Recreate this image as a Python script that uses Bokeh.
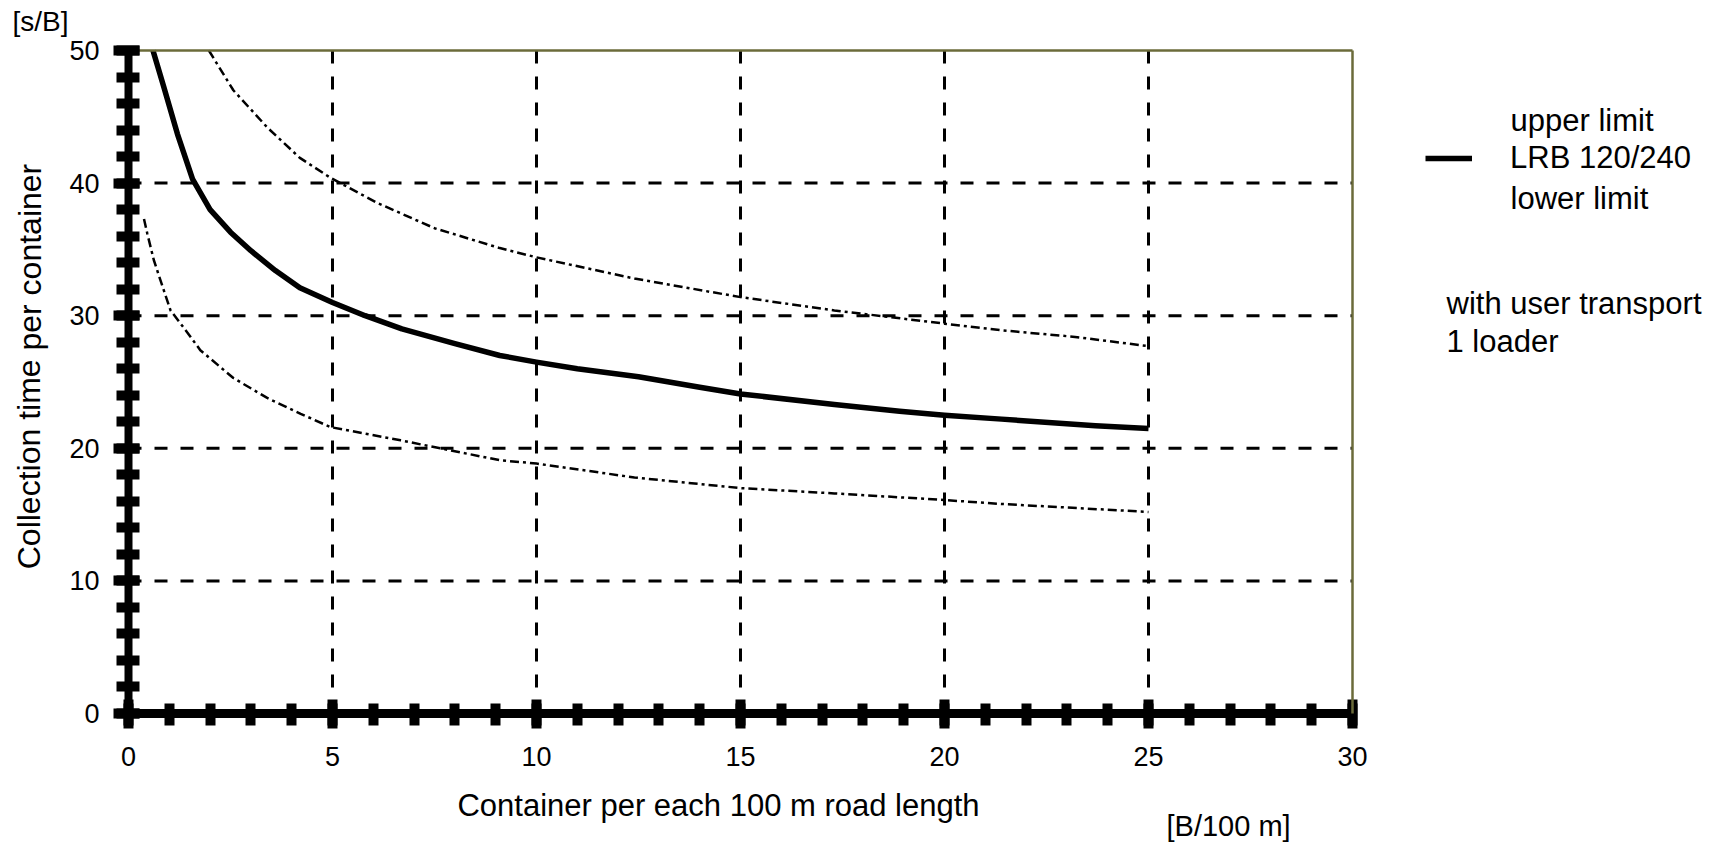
from bokeh.plotting import figure
from bokeh.models import (Range1d, SingleIntervalTicker, FixedTicker, LinearAxis,
                          Label, Legend, LegendItem)
from bokeh.embed import file_html
from bokeh.resources import INLINE

# ---- data ----
x_upper = [1.97, 2.57, 3.4, 4.2, 4.95, 6.1, 7.5, 9.1, 10.0, 12.4, 15.0, 17.3, 20.0, 21.4, 23.2, 25.0]
y_upper = [50.0, 47.0, 44.2, 41.9, 40.4, 38.5, 36.6, 35.1, 34.4, 32.8, 31.4, 30.4, 29.4, 28.9, 28.4, 27.7]

x_lrb = [0.6, 0.86, 1.2, 1.57, 2.0, 2.5, 3.0, 3.6, 4.2, 5.0, 5.8, 6.7, 8.0, 9.1, 10.0, 11.0, 12.5,
         14.0, 15.0, 17.3, 18.9, 20.0, 21.4, 23.7, 25.0]
y_lrb = [50.0, 47.3, 43.7, 40.3, 38.0, 36.3, 34.9, 33.4, 32.1, 31.0, 30.0, 29.0, 27.9, 27.0, 26.5, 26.0, 25.4,
         24.6, 24.1, 23.3, 22.8, 22.5, 22.2, 21.7, 21.5]

x_lower = [0.38, 0.46, 0.62, 0.78, 1.03, 1.45, 1.76, 2.57, 3.4, 4.22, 4.95, 6.67, 9.1, 10.0,
           12.4, 15.0, 17.3, 20.0, 21.4, 25.0]
y_lower = [37.3, 36.2, 34.2, 32.7, 30.4, 28.7, 27.4, 25.3, 23.8, 22.6, 21.6, 20.6, 19.1, 18.85,
           17.8, 17.0, 16.6, 16.1, 15.8, 15.2]

x_limits = (0, 30)
y_limits = (0, 50)
x_grid = [5, 10, 15, 20, 25]
y_grid = [10, 20, 30, 40]

FONT = "Liberation Sans"
OLIVE = "#6b6b3a"

W, H = 1725, 843
# pixel geometry of the plot area inside the page
X0_PX, X1_PX = 128, 1352
Y0_PX, Y1_PX = 713, 50
PX_X = (X1_PX - X0_PX) / (x_limits[1] - x_limits[0])
PX_Y = (Y0_PX - Y1_PX) / (y_limits[1] - y_limits[0])

x_start = (0 - X0_PX) / PX_X
y_end = Y0_PX / PX_Y
p = figure(width=W, height=H,
           x_range=Range1d(x_start, x_start + W / PX_X),
           y_range=Range1d(y_end - H / PX_Y, y_end),
           x_axis_location=None, y_axis_location=None,
           output_backend="svg", toolbar_location=None,
           min_border=0)
p.outline_line_color = None
p.background_fill_color = "white"
p.border_fill_color = "white"
p.grid.visible = False

# bottom axis
xa = LinearAxis(fixed_location=y_limits[0], bounds=x_limits,
                ticker=SingleIntervalTicker(interval=5, num_minor_ticks=5))
xa.axis_line_width = 9
xa.axis_line_color = "black"
xa.major_tick_line_width = 10
xa.major_tick_in = 14
xa.major_tick_out = 15
xa.minor_tick_line_width = 10
xa.minor_tick_in = 10
xa.minor_tick_out = 12
xa.major_label_text_font = FONT
xa.major_label_text_font_size = "27px"
xa.major_label_text_color = "black"
xa.major_label_standoff = 18
p.add_layout(xa, "below")

# left axis
ya = LinearAxis(fixed_location=x_limits[0], bounds=y_limits,
                ticker=SingleIntervalTicker(interval=10, num_minor_ticks=5))
ya.axis_line_width = 8
ya.axis_line_color = "black"
ya.major_tick_line_width = 10
ya.major_tick_in = 11
ya.major_tick_out = 15
ya.minor_tick_line_width = 10
ya.minor_tick_in = 11
ya.minor_tick_out = 12
ya.major_label_text_font = FONT
ya.major_label_text_font_size = "27px"
ya.major_label_text_color = "black"
ya.major_label_standoff = 14
p.add_layout(ya, "left")

# olive top / right borders
top = LinearAxis(fixed_location=y_limits[1], bounds=x_limits, ticker=FixedTicker(ticks=[]),
                 axis_line_color=OLIVE, axis_line_width=2.5,
                 major_tick_line_color=None, minor_tick_line_color=None)
p.add_layout(top, "above")
right = LinearAxis(fixed_location=x_limits[1], bounds=y_limits, ticker=FixedTicker(ticks=[]),
                   axis_line_color=OLIVE, axis_line_width=2.5,
                   major_tick_line_color=None, minor_tick_line_color=None)
p.add_layout(right, "right")

# dashed grid
p.segment(x0=x_grid, y0=[y_limits[1]] * len(x_grid), x1=x_grid, y1=[y_limits[0]] * len(x_grid),
          line_color="black", line_width=3, line_dash="13 13")
p.segment(x0=[x_limits[0]] * len(y_grid), y0=y_grid, x1=[x_limits[1]] * len(y_grid), y1=y_grid,
          line_color="black", line_width=3, line_dash="13 13")

# curves
p.line(x_upper, y_upper, line_color="black", line_width=2.5, line_dash="9 4 3 4")
r_lrb = p.line(x_lrb, y_lrb, line_color="black", line_width=5.5, line_join="round")
p.line(x_lower, y_lower, line_color="black", line_width=2.5, line_dash="9 4 3 4")


def dx(px):
    return (px - X0_PX) / PX_X


def dy(py):
    return (Y0_PX - py) / PX_Y


def lab(text, px, py, size, align="left", angle=0.0):
    p.add_layout(Label(x=dx(px), y=dy(py), text=text, text_font=FONT, text_font_size=size,
                       text_color="black", text_align=align, text_baseline="middle", angle=angle))


lab("[s/B]", 12, 21, "28px")
lab("Container per each 100 m road length", 718, 805, "31px", align="center")
lab("[B/100 m]", 1166, 825, "29px")
lab("Collection time per container", 29, 366, "32px", align="center", angle=1.5707963)
lab("upper limit", 1510, 120, "31px")
lab("lower limit", 1510, 198, "31px")
lab("with user transport", 1446, 303, "31px")
lab("1 loader", 1446, 341, "31px")

legend = Legend(items=[LegendItem(label="LRB 120/240", renderers=[r_lrb])],
                location=(1425, H - 178), padding=0, margin=0, spacing=0,
                glyph_width=47, glyph_height=40, label_height=40, label_standoff=38,
                label_text_font=FONT, label_text_font_size="31px", label_text_color="black",
                border_line_color=None, background_fill_alpha=0)
p.add_layout(legend, "center")

open("out.html", "w").write(file_html(p, INLINE))
